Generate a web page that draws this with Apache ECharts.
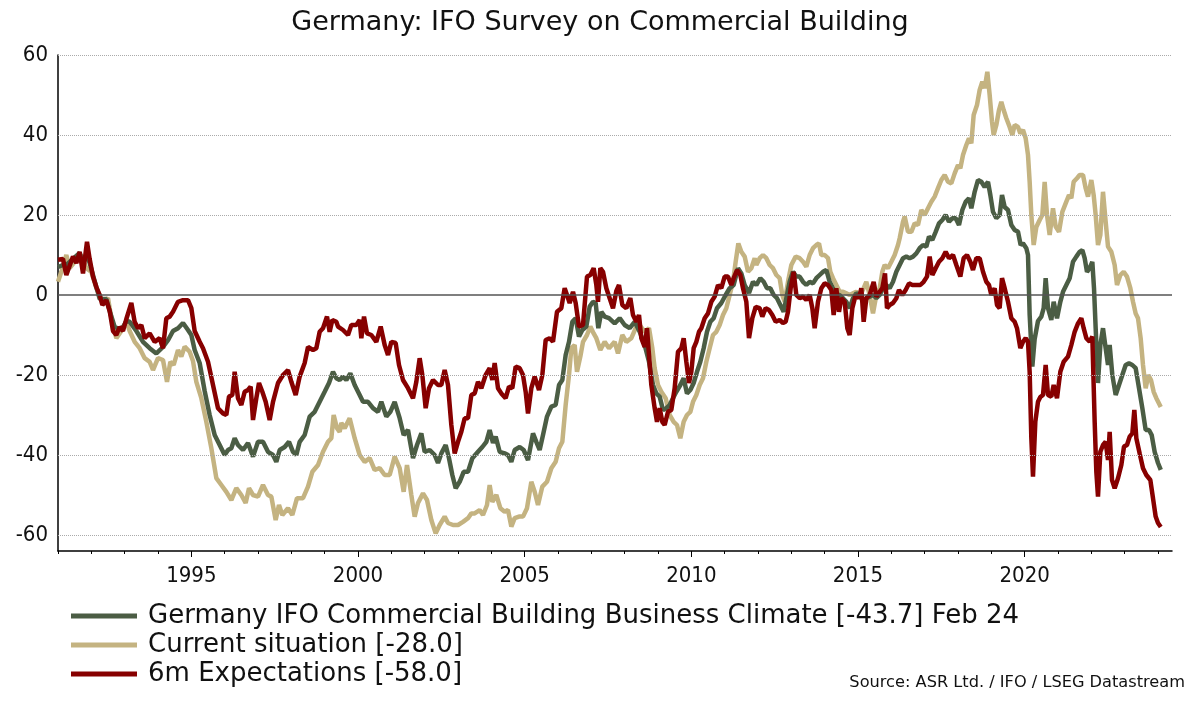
<!DOCTYPE html>
<html>
<head>
<meta charset="utf-8">
<script src="https://cdn.jsdelivr.net/npm/echarts@6/dist/echarts.min.js"></script>
<style>
html,body{margin:0;padding:0;background:#fff;}
#chart{width:1200px;height:727px;}
</style>
</head>
<body>
<div id="chart"></div>
<script>
// Time is in decimal years (e.g. 1995.5 = mid 1995); values are balances.
const climate = [
[1991.00,7],[1991.15,7.5],[1991.25,7.5],[1991.45,9],[1991.65,10.5],[1991.75,8],[1991.87,10],[1991.95,8],
[1992.05,5],[1992.15,2],[1992.25,-1],[1992.45,-1],[1992.55,-4],[1992.7,-8],[1992.85,-8.5],[1992.95,-8],
[1993.05,-6.5],[1993.15,-6.7],[1993.35,-9],[1993.55,-11.7],[1993.75,-13.3],[1993.95,-14.6],[1994.15,-13],
[1994.3,-11.3],[1994.45,-9],[1994.6,-8.3],[1994.75,-7],[1994.9,-8.75],[1995.0,-10],[1995.1,-13.75],[1995.25,-17],
[1995.4,-24],[1995.55,-30],[1995.7,-35],[1995.85,-37.5],[1996.0,-40],[1996.1,-38.75],[1996.2,-38.3],[1996.3,-35.8],
[1996.4,-37.5],[1996.55,-38.75],[1996.7,-37],[1996.85,-40.4],[1997.0,-36.7],[1997.15,-36.7],[1997.3,-39.2],
[1997.45,-40],[1997.55,-41.7],[1997.65,-38.75],[1997.8,-38],[1997.93,-36.7],[1998.05,-39.2],[1998.15,-40],
[1998.25,-36.7],[1998.4,-35],[1998.55,-30.4],[1998.7,-29.2],[1998.85,-26.7],[1999.0,-24.2],[1999.13,-22],
[1999.25,-19.2],[1999.35,-20.8],[1999.45,-21.25],[1999.55,-20.4],[1999.65,-21.25],[1999.77,-19.6],[1999.9,-22.5],
[2000.05,-25],[2000.15,-26.7],[2000.3,-26.7],[2000.45,-28.3],[2000.6,-29.2],[2000.7,-26.7],[2000.85,-30.4],
[2000.97,-29.2],[2001.1,-26.7],[2001.25,-30.8],[2001.37,-35],[2001.5,-33.75],[2001.65,-40.8],[2001.77,-37.5],
[2001.9,-34.6],[2002.0,-39.2],[2002.15,-38.75],[2002.3,-40],[2002.4,-42],[2002.5,-39.6],[2002.63,-37.5],
[2002.73,-40.8],[2002.83,-45],[2002.93,-48.3],[2003.05,-46.7],[2003.17,-44.2],[2003.3,-44.2],[2003.43,-40.8],
[2003.6,-39.2],[2003.73,-38],[2003.85,-36.7],[2003.95,-33.75],[2004.05,-37],[2004.13,-35.4],[2004.25,-39.2],
[2004.4,-39.6],[2004.5,-40],[2004.6,-41.7],[2004.7,-38.75],[2004.85,-38],[2004.97,-38.75],[2005.1,-41.25],
[2005.25,-34.6],[2005.35,-36.7],[2005.45,-38.75],[2005.55,-35],[2005.67,-30.4],[2005.8,-27.9],[2005.93,-27.5],
[2006.03,-22.5],[2006.13,-21.25],[2006.23,-15],[2006.33,-11.7],[2006.43,-6.7],[2006.53,-5.8],[2006.63,-10.4],
[2006.73,-8.75],[2006.85,-7.9],[2006.95,-2.9],[2007.05,-1.7],[2007.13,-2],[2007.21,-8.3],[2007.3,-4.2],
[2007.4,-5.4],[2007.53,-5.8],[2007.7,-7.1],[2007.85,-5.8],[2008.0,-7.5],[2008.15,-8.3],[2008.3,-6.7],
[2008.45,-9.2],[2008.6,-12.5],[2008.73,-16.7],[2008.85,-22.5],[2008.95,-24.6],[2009.05,-25.4],[2009.15,-28.75],
[2009.25,-28.3],[2009.35,-27.5],[2009.45,-25.8],[2009.55,-24.2],[2009.67,-22.5],[2009.77,-20.8],[2009.87,-24.6],
[2009.97,-23.75],[2010.07,-22],[2010.17,-19.2],[2010.27,-16.7],[2010.37,-13.3],[2010.47,-9.2],[2010.57,-6.7],
[2010.67,-5.8],[2010.77,-3.3],[2010.9,-2],[2011.03,0],[2011.15,1.7],[2011.27,2.5],[2011.4,6.7],[2011.5,5.4],
[2011.6,2.5],[2011.73,0.5],[2011.85,3.3],[2011.95,2.5],[2012.07,4.2],[2012.17,3.3],[2012.27,1.7],[2012.37,1.7],
[2012.47,0],[2012.57,-0.8],[2012.67,-2.5],[2012.77,-4.2],[2012.85,-0.8],[2012.95,3.3],[2013.05,5.8],[2013.15,4.6],
[2013.25,4.6],[2013.35,3.3],[2013.45,2.5],[2013.55,3.3],[2013.65,2.9],[2013.75,4.2],[2013.85,5],[2013.95,5.8],
[2014.05,6.25],[2014.15,3.3],[2014.25,1.7],[2014.35,0],[2014.45,0],[2014.55,-0.8],[2014.65,-1.7],[2014.75,-3.3],
[2014.85,-0.8],[2014.95,0.4],[2015.05,0],[2015.15,-1.7],[2015.25,-0.8],[2015.35,-0.4],[2015.45,0],[2015.55,-0.8],
[2015.65,0],[2015.75,1.7],[2015.85,2.5],[2015.95,1.7],[2016.05,3.3],[2016.15,5.8],[2016.25,7.5],[2016.35,9.2],
[2016.45,9.6],[2016.55,9.2],[2016.65,9.6],[2016.75,10.4],[2016.85,11.7],[2016.95,12.5],[2017.05,12.1],
[2017.13,14.6],[2017.23,13.75],[2017.33,15.8],[2017.43,17.9],[2017.53,18.75],[2017.63,20],[2017.73,18.3],
[2017.83,19.2],[2017.93,19.2],[2018.03,17.5],[2018.13,21.25],[2018.23,23.3],[2018.33,24.2],[2018.4,21.7],
[2018.5,25.8],[2018.6,28.75],[2018.7,28.3],[2018.8,27],[2018.9,28.3],[2018.97,25],[2019.05,20.8],[2019.15,19.2],
[2019.25,20],[2019.32,25],[2019.4,22],[2019.5,21.25],[2019.6,17.5],[2019.7,16.25],[2019.8,15.8],[2019.88,12.5],
[2019.95,12.9],[2020.05,11.7],[2020.1,10],[2020.15,-5],[2020.23,-17.9],[2020.3,-11],[2020.4,-6.5],[2020.5,-5.4],
[2020.57,-3.3],[2020.63,4.2],[2020.7,-3.3],[2020.8,-6.25],[2020.87,-1.7],[2020.97,-5.8],[2021.07,-1.7],
[2021.15,0.8],[2021.25,2.5],[2021.35,4.2],[2021.45,8.3],[2021.55,9.6],[2021.65,10.8],[2021.73,11.25],[2021.8,9.2],
[2021.87,5.8],[2021.95,6.7],[2022.03,8.3],[2022.08,1.7],[2022.13,-8.3],[2022.2,-22],[2022.27,-12.5],[2022.35,-8.3],
[2022.43,-13.3],[2022.5,-17.5],[2022.55,-12.5],[2022.63,-20],[2022.73,-25],[2022.83,-22.5],[2022.93,-20],
[2023.03,-17.5],[2023.13,-17.1],[2023.23,-17.5],[2023.33,-18.3],[2023.43,-23.3],[2023.53,-28.3],[2023.63,-33.75],
[2023.73,-33.75],[2023.81,-35],[2023.9,-39.2],[2024.0,-42],[2024.083,-43.7]
];

const situation = [
[1991.00,3.3],[1991.1,5.8],[1991.25,10],[1991.35,6.7],[1991.5,8.3],[1991.7,10],[1991.85,6.7],[1992.0,5.8],
[1992.15,1.7],[1992.35,-1.7],[1992.5,-0.8],[1992.6,-5.8],[1992.75,-10.8],[1992.9,-9],[1993.05,-6.7],[1993.15,-9],
[1993.3,-11.7],[1993.45,-13.3],[1993.6,-15.8],[1993.75,-16.7],[1993.85,-18.75],[1994.0,-15.8],[1994.15,-16.25],
[1994.27,-21.7],[1994.37,-16.7],[1994.47,-17.5],[1994.6,-13.75],[1994.7,-15.4],[1994.8,-12.9],[1994.95,-14.2],
[1995.05,-16.5],[1995.15,-21.7],[1995.3,-25.8],[1995.45,-31.7],[1995.6,-38.3],[1995.75,-45.8],[1995.9,-47.5],
[1996.05,-49.2],[1996.2,-51.25],[1996.35,-48.3],[1996.5,-50],[1996.63,-52],[1996.73,-48.3],[1996.85,-50],
[1997.0,-50.4],[1997.15,-47.5],[1997.3,-50],[1997.4,-50.4],[1997.53,-56.25],[1997.63,-52.5],[1997.73,-55],
[1997.9,-53.3],[1998.03,-55],[1998.17,-50.8],[1998.35,-50.8],[1998.5,-47.9],[1998.63,-44.2],[1998.8,-42.5],
[1998.95,-39.2],[1999.1,-36.7],[1999.2,-35.8],[1999.27,-30],[1999.37,-33.3],[1999.45,-34.2],[1999.5,-32],
[1999.6,-33.3],[1999.75,-30.8],[1999.9,-35.8],[2000.05,-40],[2000.2,-41.7],[2000.35,-40.8],[2000.5,-43.75],
[2000.65,-43.3],[2000.8,-45],[2000.95,-45],[2001.1,-40.4],[2001.25,-43.3],[2001.37,-49.2],[2001.47,-42.5],
[2001.6,-50],[2001.7,-55.4],[2001.8,-52],[2001.95,-49.6],[2002.07,-51.25],[2002.2,-56.25],[2002.33,-59.6],
[2002.45,-57.5],[2002.6,-55.4],[2002.7,-57],[2002.85,-57.5],[2003.0,-57.5],[2003.15,-56.7],[2003.3,-55.8],
[2003.4,-54.6],[2003.5,-54.6],[2003.65,-53.75],[2003.75,-55],[2003.87,-52.5],[2003.95,-47.5],[2004.03,-51.7],
[2004.15,-50],[2004.27,-53.3],[2004.4,-54.2],[2004.5,-53.75],[2004.6,-57.9],[2004.7,-55.8],[2004.83,-55.4],
[2004.95,-55.4],[2005.07,-53.3],[2005.2,-46.7],[2005.3,-49.2],[2005.4,-52.5],[2005.53,-47.9],[2005.67,-46.7],
[2005.8,-43.3],[2005.93,-41.7],[2006.03,-38.3],[2006.13,-36.7],[2006.23,-27.5],[2006.33,-20],[2006.4,-13.3],
[2006.5,-12.5],[2006.57,-19.2],[2006.67,-15.4],[2006.75,-11.7],[2006.87,-10],[2006.97,-7.9],[2007.07,-9.6],
[2007.15,-10.8],[2007.27,-13.75],[2007.4,-11.7],[2007.53,-13.3],[2007.7,-11.7],[2007.8,-14.6],[2007.93,-10],
[2008.05,-11.7],[2008.2,-10.8],[2008.33,-8.3],[2008.45,-7.5],[2008.6,-9.2],[2008.73,-8.3],[2008.83,-13.3],
[2008.9,-18.3],[2009.0,-22.5],[2009.1,-24.2],[2009.23,-25.8],[2009.35,-30],[2009.47,-31.7],[2009.57,-32.5],
[2009.67,-35.8],[2009.77,-31.7],[2009.87,-30],[2009.97,-29.2],[2010.05,-26.7],[2010.15,-25],[2010.25,-22.5],
[2010.35,-20.8],[2010.45,-16.7],[2010.55,-13.3],[2010.65,-10],[2010.75,-9.2],[2010.85,-7.5],[2010.95,-5],
[2011.05,-3.3],[2011.15,0],[2011.25,3.3],[2011.33,8.3],[2011.41,12.9],[2011.5,10.8],[2011.6,9.6],[2011.7,5.8],
[2011.8,6.7],[2011.9,9.2],[2011.95,7.5],[2012.05,9.2],[2012.15,10],[2012.25,9.2],[2012.35,7.5],[2012.45,6.7],
[2012.55,5],[2012.65,4.2],[2012.73,0],[2012.8,-1.7],[2012.9,3.3],[2013.0,7.5],[2013.13,9.6],[2013.25,9.2],
[2013.35,8.3],[2013.45,7.1],[2013.55,10],[2013.65,11.7],[2013.75,12.5],[2013.83,12.9],[2013.9,10],[2014.0,10],
[2014.1,9.2],[2014.17,5.8],[2014.25,4.2],[2014.35,2.5],[2014.45,0.8],[2014.55,0.8],[2014.65,0.4],[2014.75,0],
[2014.85,0.4],[2014.95,0.8],[2015.07,0],[2015.17,1.7],[2015.25,3.3],[2015.35,0],[2015.45,-4.6],[2015.55,0],
[2015.65,1.7],[2015.73,5.8],[2015.8,7.5],[2015.9,6.7],[2016.0,8.3],[2016.1,10],[2016.2,12.5],[2016.25,14.2],
[2016.35,18.3],[2016.4,19.6],[2016.5,15.8],[2016.6,15.8],[2016.7,17.9],[2016.8,17.5],[2016.9,21.25],[2017.0,20],
[2017.1,21.7],[2017.2,23.3],[2017.3,24.6],[2017.4,26.7],[2017.5,28.75],[2017.6,30],[2017.7,28.3],[2017.8,27.9],
[2017.9,30.4],[2018.0,32.5],[2018.07,31.7],[2018.15,35],[2018.25,37.5],[2018.33,39.2],[2018.4,37.9],[2018.47,45],
[2018.57,47.5],[2018.65,51.25],[2018.73,53.3],[2018.8,51.7],[2018.88,55.8],[2018.95,50],[2019.02,43.3],
[2019.07,40],[2019.15,42.5],[2019.23,46.25],[2019.3,48.3],[2019.37,46.25],[2019.45,44.2],[2019.55,42],
[2019.63,40],[2019.7,42.5],[2019.8,42],[2019.87,40.4],[2019.95,41.25],[2020.03,39.2],[2020.1,35],[2020.15,28.3],
[2020.2,20],[2020.27,12.5],[2020.35,17],[2020.45,18.75],[2020.53,20],[2020.6,28.3],[2020.67,20],[2020.75,15],
[2020.85,21.7],[2020.93,17.1],[2021.03,15.8],[2021.13,20.8],[2021.23,22.9],[2021.33,25],[2021.4,24.2],
[2021.47,28.3],[2021.57,29.2],[2021.65,30],[2021.75,30],[2021.83,26.7],[2021.9,24.6],[2022.0,28.75],[2022.07,25],
[2022.13,20],[2022.2,12.5],[2022.27,15],[2022.35,25.8],[2022.43,18.3],[2022.5,12.1],[2022.6,10.8],[2022.7,7.5],
[2022.77,2.5],[2022.87,5],[2022.97,5.8],[2023.07,4.6],[2023.17,1.7],[2023.25,-1.7],[2023.33,-4.6],[2023.4,-5.8],
[2023.48,-10.8],[2023.55,-17.5],[2023.63,-23.3],[2023.71,-20],[2023.79,-21.25],[2023.87,-24.2],[2023.95,-25.8],
[2024.083,-28]
];

const expectations = [
[1991.00,8.8],[1991.15,9],[1991.25,5],[1991.45,9.6],[1991.55,8],[1991.65,10.8],[1991.75,5.4],[1991.87,13.3],
[1991.95,9],[1992.05,4.6],[1992.15,2],[1992.25,0],[1992.33,-2.5],[1992.45,-1.3],[1992.55,-4],[1992.65,-9],
[1992.75,-10],[1992.85,-8],[1992.95,-9],[1993.05,-6],[1993.2,-2],[1993.3,-6.7],[1993.4,-8.3],[1993.5,-7.5],
[1993.6,-10.8],[1993.75,-9.6],[1993.9,-11.7],[1994.05,-10.8],[1994.15,-13.3],[1994.25,-5.8],[1994.35,-5.4],
[1994.45,-4.2],[1994.6,-1.7],[1994.75,-1.3],[1994.9,-1.3],[1995.0,-3.3],[1995.1,-9],[1995.25,-11.7],
[1995.35,-13.3],[1995.5,-16.7],[1995.65,-22.5],[1995.8,-28.3],[1995.95,-29.6],[1996.05,-30],[1996.13,-25.4],
[1996.23,-25],[1996.3,-19.2],[1996.4,-25.8],[1996.5,-27.5],[1996.6,-24.2],[1996.7,-23.75],[1996.78,-22.9],
[1996.85,-31.25],[1996.95,-25.8],[1997.03,-22],[1997.13,-24.2],[1997.23,-26.7],[1997.35,-31.25],[1997.45,-26.7],
[1997.6,-22],[1997.75,-20],[1997.9,-18.75],[1998.0,-21.7],[1998.13,-25],[1998.25,-20.4],[1998.4,-17],
[1998.5,-13],[1998.65,-13.75],[1998.75,-13.3],[1998.85,-9.2],[1998.95,-8.3],[1999.07,-5.4],[1999.15,-9.2],
[1999.23,-6.25],[1999.35,-6.7],[1999.4,-7.9],[1999.55,-8.75],[1999.7,-10],[1999.8,-7.5],[1999.95,-7.5],
[2000.05,-6.25],[2000.1,-10.8],[2000.18,-5.4],[2000.27,-9.6],[2000.4,-10],[2000.55,-11.7],[2000.68,-7.9],
[2000.8,-12.5],[2000.9,-15],[2001.0,-11.7],[2001.13,-12],[2001.23,-17.5],[2001.35,-21.25],[2001.5,-23.3],
[2001.65,-25.8],[2001.75,-21.7],[2001.85,-15.8],[2001.93,-20],[2002.03,-28.3],[2002.13,-23.3],[2002.25,-21.25],
[2002.4,-22.5],[2002.5,-22.5],[2002.6,-18.75],[2002.7,-22.5],[2002.8,-32.5],[2002.9,-39.6],[2003.0,-36.7],
[2003.1,-34.2],[2003.2,-30.8],[2003.3,-30.8],[2003.4,-25],[2003.5,-24.6],[2003.6,-21.7],[2003.7,-23.3],
[2003.83,-20],[2003.95,-18.3],[2004.03,-21.25],[2004.1,-17],[2004.2,-23.3],[2004.3,-24.6],[2004.43,-25.8],
[2004.53,-22.9],[2004.63,-23.3],[2004.73,-17.9],[2004.85,-18.3],[2004.95,-20],[2005.03,-24.2],[2005.1,-29.6],
[2005.2,-23.3],[2005.3,-20.4],[2005.43,-23.75],[2005.53,-20],[2005.63,-11.25],[2005.75,-10.8],[2005.85,-11.7],
[2005.97,-4.2],[2006.1,-3.3],[2006.2,1.7],[2006.27,0],[2006.35,-2],[2006.45,0.8],[2006.53,-2],[2006.63,-7.9],
[2006.75,-7.5],[2006.87,4.6],[2006.97,5],[2007.07,6.7],[2007.15,2.5],[2007.2,-1.7],[2007.27,6.7],[2007.35,5.8],
[2007.45,1.7],[2007.55,-0.8],[2007.65,-3.3],[2007.75,1],[2007.83,2.5],[2007.93,-2.5],[2008.05,-3.3],
[2008.17,-0.8],[2008.25,-5],[2008.35,-6.7],[2008.43,-5],[2008.5,-10.8],[2008.6,-13],[2008.67,-8.3],[2008.73,-15],
[2008.8,-22.5],[2008.9,-28.3],[2008.97,-31.7],[2009.05,-28.3],[2009.13,-31.7],[2009.2,-32.5],[2009.3,-29.2],
[2009.4,-28.75],[2009.5,-23.3],[2009.6,-14.2],[2009.7,-13.3],[2009.77,-10.8],[2009.85,-16.7],[2009.93,-22],
[2010.0,-19.2],[2010.07,-13.3],[2010.15,-11.7],[2010.23,-9.2],[2010.3,-8.3],[2010.4,-5.8],[2010.5,-4.6],
[2010.6,-1.7],[2010.7,-0.4],[2010.8,2.5],[2010.9,1.7],[2011.0,4.6],[2011.1,4.6],[2011.2,2.5],[2011.27,4.2],
[2011.37,6.25],[2011.47,5],[2011.55,1.7],[2011.65,-1.7],[2011.73,-10.8],[2011.83,-5.8],[2011.93,-3],
[2012.05,-3.3],[2012.13,-5.4],[2012.23,-3.3],[2012.33,-3.75],[2012.43,-5],[2012.53,-6.7],[2012.65,-6.25],
[2012.75,-7],[2012.83,-6.7],[2012.9,-4.2],[2012.98,1.7],[2013.07,5.8],[2013.15,0],[2013.25,-0.8],[2013.35,-0.4],
[2013.45,-1.25],[2013.55,0],[2013.63,-3.3],[2013.7,-8.3],[2013.8,-1.7],[2013.9,1.7],[2014.0,2.9],[2014.1,2.5],
[2014.2,1.25],[2014.27,-5],[2014.35,1.7],[2014.43,-4.2],[2014.5,-0.8],[2014.6,-1.7],[2014.68,-8.3],[2014.75,-10],
[2014.83,-3.3],[2014.93,0],[2015.03,-0.8],[2015.1,1.7],[2015.17,-6.7],[2015.25,-0.8],[2015.35,0],[2015.47,3.3],
[2015.55,-0.4],[2015.65,0.8],[2015.73,1.7],[2015.81,5.4],[2015.87,-3.3],[2015.95,-2.5],[2016.05,-2],
[2016.15,-0.8],[2016.23,1.25],[2016.33,0],[2016.43,1.25],[2016.53,2.9],[2016.63,2.5],[2016.75,2.5],[2016.87,2.5],
[2016.97,3.3],[2017.07,4.6],[2017.15,9.6],[2017.23,5],[2017.33,6.7],[2017.43,8.3],[2017.53,9.2],[2017.63,10.8],
[2017.73,9.2],[2017.85,10],[2017.95,7.5],[2018.07,4.6],[2018.17,9.2],[2018.27,10],[2018.37,8.3],[2018.45,6.25],
[2018.55,9.2],[2018.65,9.2],[2018.75,5.8],[2018.85,3.3],[2018.93,2.5],[2019.0,0],[2019.1,1.7],[2019.17,-2.5],
[2019.25,-3.3],[2019.32,4.2],[2019.4,1.7],[2019.5,-1.7],[2019.6,-5.8],[2019.7,-6.7],[2019.77,-8.3],
[2019.87,-13.3],[2019.95,-11.7],[2020.03,-10.8],[2020.1,-11.7],[2020.15,-19.2],[2020.2,-35.8],[2020.25,-45.4],
[2020.32,-31.7],[2020.4,-26.7],[2020.47,-25.5],[2020.55,-25],[2020.63,-17.5],[2020.7,-25],[2020.8,-25.4],
[2020.87,-22.5],[2020.97,-25.8],[2021.07,-19.2],[2021.17,-16.7],[2021.3,-15.4],[2021.4,-12.5],[2021.5,-9.2],
[2021.6,-7.1],[2021.7,-5.8],[2021.77,-8.3],[2021.85,-10.8],[2021.95,-11.7],[2022.03,-10.4],[2022.1,-31.7],
[2022.15,-44.2],[2022.2,-50.4],[2022.27,-39.2],[2022.35,-37.5],[2022.43,-36.7],[2022.5,-41.25],[2022.55,-34.2],
[2022.62,-46.25],[2022.7,-48.3],[2022.8,-45.8],[2022.9,-42.5],[2022.98,-37.9],[2023.07,-37.5],[2023.15,-35.4],
[2023.23,-34.6],[2023.29,-28.75],[2023.35,-35.8],[2023.45,-39.6],[2023.55,-43.3],[2023.65,-45],[2023.77,-46.25],
[2023.85,-50.8],[2023.93,-55.4],[2024.0,-57],[2024.083,-58]
];

const seriesNames = [
  'Germany IFO Commercial Building Business Climate [-43.7] Feb 24',
  'Current situation [-28.0]',
  '6m Expectations [-58.0]'
];
const yTickLabels = [-60, -40, -20, 0, 20, 40, 60];
const xLabelYears = [1995, 2000, 2005, 2010, 2015, 2020];
const xTickYears = [];
for (let y = 1991; y <= 2024; y++) xTickYears.push(y);

const FONT = "'DejaVu Sans', sans-serif";
const AXFONT = "'DejaVu Sans Condensed', 'DejaVu Sans', sans-serif";
const colors = ['#4b5d44', '#c4b381', '#870000'];

const chart = echarts.init(document.getElementById('chart'), null, {renderer: 'canvas'});
const option = {
  animation: false,
  backgroundColor: '#ffffff',
  textStyle: {fontFamily: FONT},
  title: [
    {text: 'Germany: IFO Survey on Commercial Building', left: 'center', top: 4,
     textStyle: {fontFamily: FONT, fontSize: 27, fontWeight: 'normal', color: '#111'}},
    {text: 'Source: ASR Ltd. / IFO / LSEG Datastream', right: 10, top: 670,
     textStyle: {fontFamily: FONT, fontSize: 16.2, fontWeight: 'normal', color: '#111'}}
  ],
  legend: {
    orient: 'vertical', left: 66, top: 598, itemWidth: 66, itemHeight: 5, itemGap: 3,
    selectedMode: false,
    textStyle: {fontFamily: FONT, fontSize: 26, color: '#111', lineHeight: 26, padding: [0, 0, 0, 6]},
    data: seriesNames.map(n => ({name: n, icon: 'rect'}))
  },
  grid: {left: 58, right: 28, top: 55, bottom: 176, containLabel: false},
  xAxis: [
    {type: 'value', min: 1991, max: 2024.42,
     axisLine: {show: true, onZero: false, lineStyle: {color: '#000', width: 1.5}},
     axisTick: {show: true, customValues: xTickYears, length: 3, lineStyle: {color: '#000'}},
     axisLabel: {show: false}, splitLine: {show: false}},
    {type: 'value', min: 1991, max: 2024.42, position: 'bottom',
     axisLine: {show: false, onZero: false},
     axisTick: {show: true, customValues: xLabelYears, length: 6, lineStyle: {color: '#000'}},
     axisLabel: {show: true, customValues: xLabelYears, formatter: v => String(v), margin: 14,
                 fontFamily: AXFONT, fontSize: 22, color: '#111'},
     splitLine: {show: false}}
  ],
  yAxis: {
    type: 'value', min: -64, max: 60,
    axisLine: {show: true, onZero: false, lineStyle: {color: '#000', width: 1.5}},
    axisTick: {show: false},
    axisLabel: {show: true, customValues: yTickLabels, formatter: v => String(v), margin: 10,
                fontFamily: AXFONT, fontSize: 22, color: '#111'},
    splitLine: {show: false}
  },
  series: [
    {type: 'line', name: '_grid', data: [], silent: true, z: 1,
     markLine: {silent: true, symbol: 'none', label: {show: false}, animation: false,
       lineStyle: {type: 'dotted', color: '#aaaaaa', width: 1},
       data: yTickLabels.filter(v => v !== 0).map(v => ({yAxis: v}))}},
    {type: 'line', name: '_zero', data: [], silent: true, z: 1,
     markLine: {silent: true, symbol: 'none', label: {show: false}, animation: false,
       lineStyle: {type: 'solid', color: '#555', width: 1.5},
       data: [{yAxis: 0}]}},
    {type: 'line', name: seriesNames[0], data: climate, showSymbol: false, z: 3,
     lineStyle: {width: 4.5, color: colors[0]}, itemStyle: {color: colors[0]}},
    {type: 'line', name: seriesNames[1], data: situation, showSymbol: false, z: 2,
     lineStyle: {width: 4.5, color: colors[1]}, itemStyle: {color: colors[1]}},
    {type: 'line', name: seriesNames[2], data: expectations, showSymbol: false, z: 4,
     lineStyle: {width: 4.5, color: colors[2]}, itemStyle: {color: colors[2]}}
  ]
};
chart.setOption(option);
</script>
</body>
</html>
